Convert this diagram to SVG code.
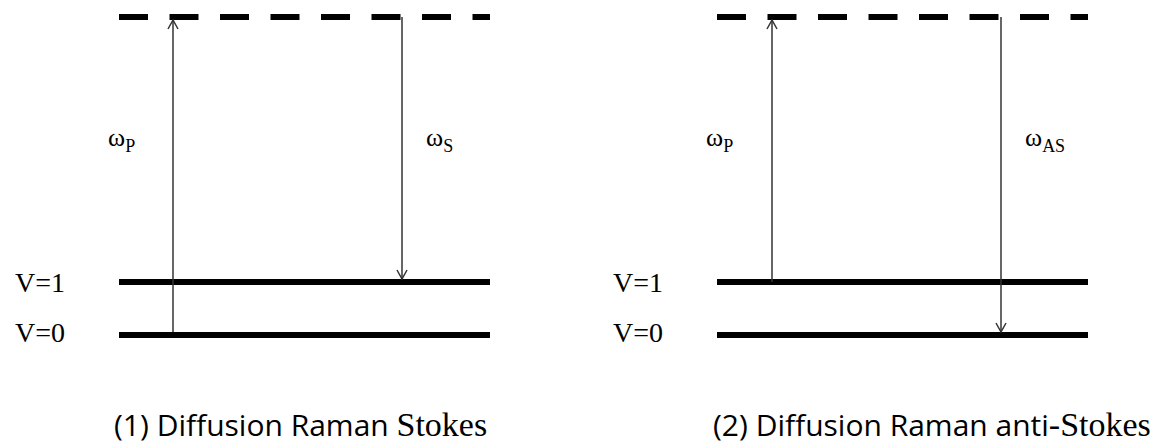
<svg xmlns="http://www.w3.org/2000/svg" width="1171" height="443" viewBox="0 0 1171 443">
<style>
.lvl{stroke:#000;stroke-width:6;fill:none}
.virt{stroke:#000;stroke-width:6;stroke-dasharray:29 21.5;fill:none}
.arr{stroke:#333;stroke-width:1.5;fill:none}
.ser{font-family:"Liberation Serif",serif;fill:#000}
.lab{font-size:28px}
.om{font-size:26px}
.sub{font-size:18px}
.cap{font-family:"Open Sans","Liberation Sans",sans-serif;font-size:30px;fill:#000}
.capser{font-family:"Liberation Serif",serif;font-size:34px}
</style>
<defs>
<marker id="ah" markerWidth="12" markerHeight="12" refX="10" refY="6" orient="auto" markerUnits="userSpaceOnUse">
<path d="M1,1 L10,6 L1,11" fill="none" stroke="#333" stroke-width="1.5"/>
</marker>
</defs>
<g id="panel1">
<g id="p1-virtual"><line class="virt" x1="119" y1="17" x2="490" y2="17"/></g>
<g id="p1-v1"><line class="lvl" x1="119" y1="282" x2="490" y2="282"/><text class="ser lab" x="65" y="292" text-anchor="end">V=1</text></g>
<g id="p1-v0"><line class="lvl" x1="119" y1="335" x2="490" y2="335"/><text class="ser lab" x="65" y="342" text-anchor="end">V=0</text></g>
<g id="p1-labels">
<text class="ser om" x="108" y="146">ω<tspan class="sub" dy="6">P</tspan></text>
<text class="ser om" x="426" y="146">ω<tspan class="sub" dy="6">S</tspan></text>
</g>
<text id="cap1" class="cap" x="114" y="436">(1) Diffusion Raman <tspan class="capser">Stokes</tspan></text>
</g>
<g id="panel2">
<g id="p2-virtual"><line class="virt" x1="717" y1="17" x2="1088" y2="17"/></g>
<g id="p2-v1"><line class="lvl" x1="717" y1="282" x2="1088" y2="282"/><text class="ser lab" x="663" y="292" text-anchor="end">V=1</text></g>
<g id="p2-v0"><line class="lvl" x1="717" y1="335" x2="1088" y2="335"/><text class="ser lab" x="663" y="342" text-anchor="end">V=0</text></g>
<g id="p2-labels">
<text class="ser om" x="706" y="146">ω<tspan class="sub" dy="6">P</tspan></text>
<text class="ser om" x="1025" y="146">ω<tspan class="sub" dy="6">AS</tspan></text>
</g>
<text id="cap2" class="cap" x="713" y="436">(2) Diffusion Raman anti<tspan class="capser">-Stokes</tspan></text>
</g>
<g id="connectors">
<line class="arr" x1="173" y1="332" x2="173" y2="20" marker-end="url(#ah)"/>
<line class="arr" x1="402" y1="17" x2="402" y2="279" marker-end="url(#ah)"/>
<line class="arr" x1="772" y1="282" x2="772" y2="20" marker-end="url(#ah)"/>
<line class="arr" x1="1001" y1="17" x2="1001" y2="332" marker-end="url(#ah)"/>
</g>
</svg>
